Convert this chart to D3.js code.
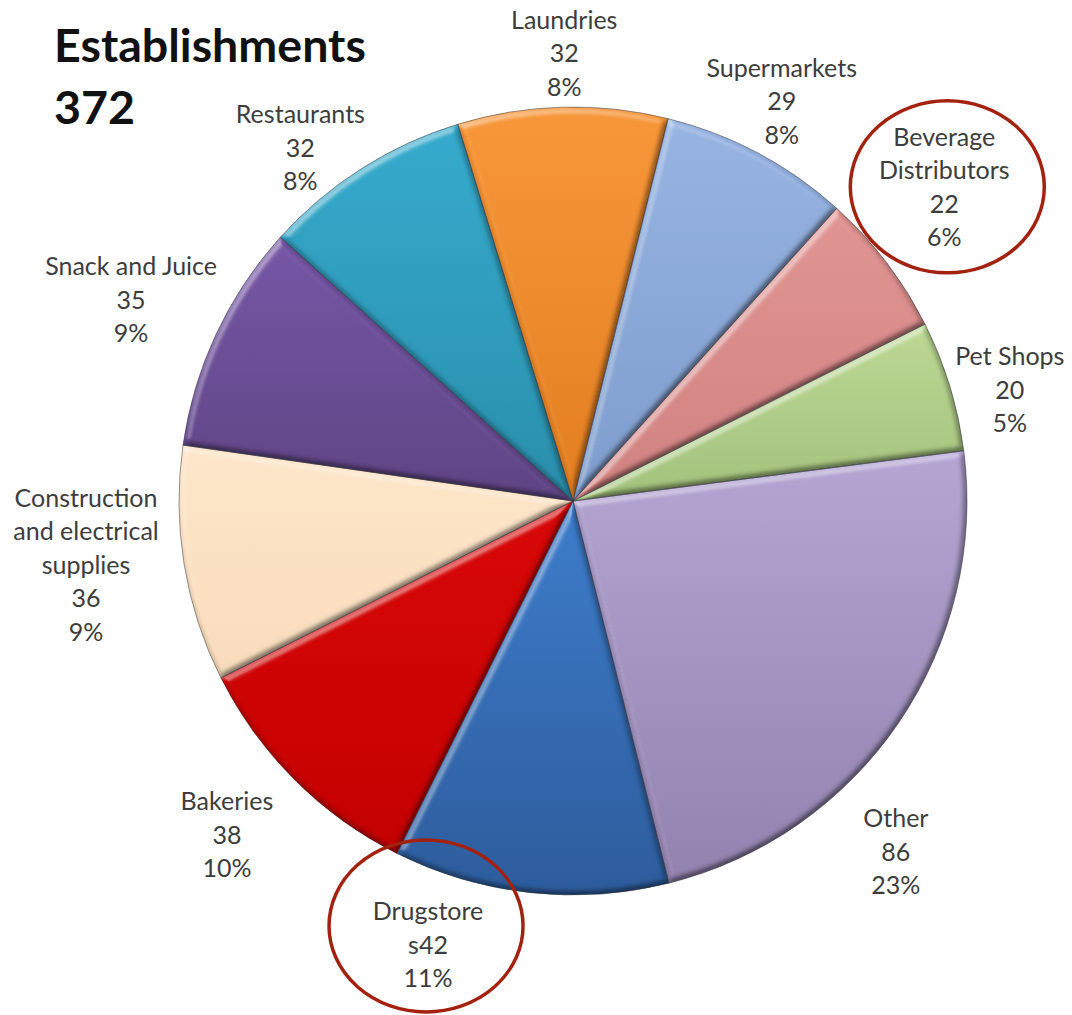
<!DOCTYPE html>
<html>
<head>
<meta charset="utf-8">
<script src="https://cdn.jsdelivr.net/npm/d3@7"></script>
<style>
  html, body { margin: 0; padding: 0; background: #fff; }
  svg { display: block; }
</style>
</head>
<body>
<script>
// ---------------- data ----------------
const categories = ["Laundries", "Supermarkets", "Beverage Distributors", "Pet Shops", "Other",
  "Drugstores", "Bakeries", "Construction and electrical supplies", "Snack and Juice", "Restaurants"];
const values = [32, 29, 22, 20, 86, 42, 38, 36, 35, 32];
const percentLabels = ["8%", "8%", "6%", "5%", "23%", "11%", "10%", "9%", "9%", "8%"];
const labelTemplates = ["Laundries|{v}|{p}", "Supermarkets|{v}|{p}", "Beverage|Distributors|{v}|{p}",
  "Pet Shops|{v}|{p}", "Other|{v}|{p}", "Drugstore|s{v}|{p}", "Bakeries|{v}|{p}",
  "Construction|and electrical|supplies|{v}|{p}", "Snack and Juice|{v}|{p}", "Restaurants|{v}|{p}"];
const colorsTop = ["#F8973A", "#97B4E2", "#E19593", "#BCD894", "#B4A5D3",
  "#3E7DCB", "#D80808", "#FDE6CA", "#7656A6", "#36ABCD"];
const colorsBottom = ["#E27E20", "#7E9CCC", "#D08280", "#A3C27C", "#9282AE",
  "#2D5C9C", "#C40000", "#F9DCBC", "#5F4584", "#2A8EAC"];
const titleText = "Establishments";
const highlighted = ["Beverage Distributors", "Drugstores"];

// ---------------- layout ----------------
const W = 1072, H = 1015;
const cx = 573, cy = 501, R = 394;
const deg = Math.PI / 180;
const start = -17 * deg;
// label placement: angular shift from slice mid-angle (deg) and distance from centre
const labelShift = [0.4, -0.5, -3, 2.6, 13, 11.9, 1.2, 1.9, -0.5, -5.1];
const labelDist = [449, 452, 487, 451, 476, 466, 480, 491, 486, 447];
const lineGap = 33.5;

const svg = d3.select("body").append("svg").attr("width", W).attr("height", H);
const defs = svg.append("defs");

// bevel filter
const f = defs.append("filter").attr("id", "bevel")
  .attr("x", "-5%").attr("y", "-5%").attr("width", "110%").attr("height", "110%")
  .attr("color-interpolation-filters", "sRGB");
f.append("feGaussianBlur").attr("in", "SourceAlpha").attr("stdDeviation", 3).attr("result", "blur");
const dl = f.append("feDiffuseLighting").attr("in", "blur").attr("surfaceScale", 5)
  .attr("diffuseConstant", 1).attr("lighting-color", "#fff").attr("result", "light");
dl.append("feDistantLight").attr("azimuth", 235).attr("elevation", 55);
f.append("feColorMatrix").attr("in", "light").attr("type", "matrix")
  .attr("values", "0 0 0 0 1  0 0 0 0 1  0 0 0 0 1  2.4 0 0 0 -1.966").attr("result", "hi");
f.append("feColorMatrix").attr("in", "light").attr("type", "matrix")
  .attr("values", "0 0 0 0 0  0 0 0 0 0  0 0 0 0 0  -0.6 0 0 0 0.4915").attr("result", "sh");
f.append("feComposite").attr("in", "hi").attr("in2", "SourceAlpha").attr("operator", "in").attr("result", "hi2");
f.append("feComposite").attr("in", "sh").attr("in2", "SourceAlpha").attr("operator", "in").attr("result", "sh2");
const fm = f.append("feMerge");
fm.append("feMergeNode").attr("in", "SourceGraphic");
fm.append("feMergeNode").attr("in", "sh2");
fm.append("feMergeNode").attr("in", "hi2");

// gradients
colorsTop.forEach((c, i) => {
  const g = defs.append("linearGradient").attr("id", "grad" + i)
    .attr("x1", 0).attr("y1", 0).attr("x2", 0).attr("y2", 1);
  g.append("stop").attr("offset", "0%").attr("stop-color", c);
  g.append("stop").attr("offset", "100%").attr("stop-color", colorsBottom[i]);
});

const pie = d3.pie().sort(null).value(d => d).startAngle(start).endAngle(start + 2 * Math.PI);
const arcs = pie(values);
const arc = d3.arc().innerRadius(0).outerRadius(R);

const gPie = svg.append("g").attr("transform", `translate(${cx},${cy})`);
gPie.selectAll("path.slice").data(arcs).join("path")
  .attr("class", "slice")
  .attr("d", arc)
  .attr("fill", (d, i) => `url(#grad${i})`)
  .attr("filter", "url(#bevel)");
gPie.selectAll("path.outline").data(arcs).join("path")
  .attr("class", "outline")
  .attr("d", arc)
  .attr("fill", "none")
  .attr("stroke", "rgba(50,50,60,0.5)")
  .attr("stroke-width", 1);

// fit fonts
const FONT = "Lato, 'Noto Sans', sans-serif";
function measure(text, size, weight) {
  const t = svg.append("text").attr("font-family", FONT).attr("font-size", size)
    .attr("font-weight", weight).text(text);
  const w = t.node().getComputedTextLength();
  t.remove();
  return w;
}
const labelSize = 24 * 143 / measure("Construction", 24, 400);
const titleSize = 44 * 312 / measure(titleText, 44, 700);

// labels
const gLab = svg.append("g");
const labelCenters = [];
arcs.forEach((d, i) => {
  const a = (d.startAngle + d.endAngle) / 2 + labelShift[i] * deg;
  const x = cx + labelDist[i] * Math.sin(a);
  const y = cy - labelDist[i] * Math.cos(a);
  labelCenters.push([x, y]);
  const lines = labelTemplates[i].replace("{v}", values[i]).replace("{p}", percentLabels[i]).split("|");
  const t = gLab.append("text")
    .attr("font-family", FONT).attr("font-size", labelSize)
    .attr("fill", "#3d3d3d").attr("text-anchor", "middle");
  lines.forEach((ln, k) => {
    t.append("tspan").attr("x", x)
      .attr("y", y + (k - (lines.length - 1) / 2) * lineGap)
      .attr("dominant-baseline", "central")
      .text(ln);
  });
});

// highlight ellipses
const ellipseOffset = { "Beverage Distributors": [3, 1], "Drugstores": [-2, -18] };
categories.forEach((c, i) => {
  if (!highlighted.includes(c)) return;
  const [x, y] = labelCenters[i];
  const o = ellipseOffset[c];
  svg.append("ellipse")
    .attr("cx", x + o[0]).attr("cy", y + o[1])
    .attr("rx", 97).attr("ry", 86)
    .attr("fill", "none").attr("stroke", "#A3220F").attr("stroke-width", 3.5);
});

// title
const title = svg.append("text").attr("font-family", FONT).attr("font-weight", 700)
  .attr("font-size", titleSize).attr("fill", "#111");
title.append("tspan").attr("x", 54).attr("y", 44).attr("dominant-baseline", "central").text(titleText);
title.append("tspan").attr("x", 54).attr("y", 106).attr("dominant-baseline", "central").text(d3.sum(values));
</script>
</body>
</html>
